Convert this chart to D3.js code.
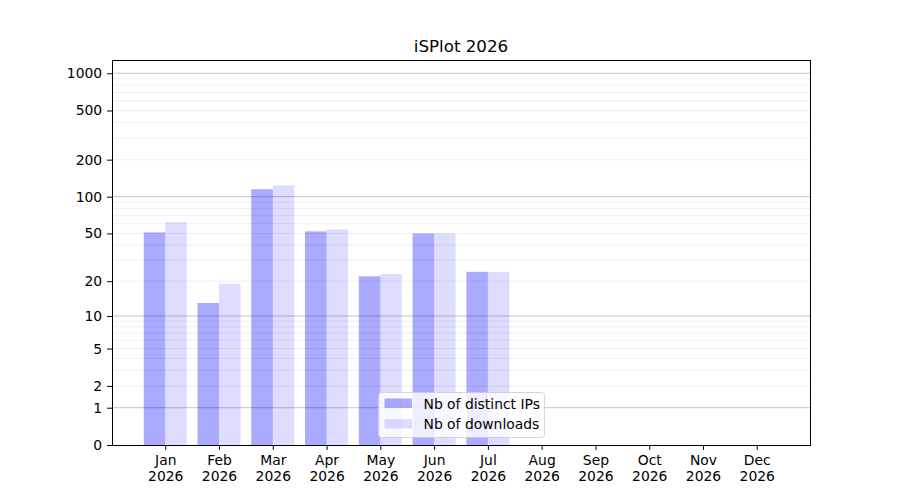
<!DOCTYPE html>
<html>
<head>
<meta charset="utf-8">
<script src="https://cdn.jsdelivr.net/npm/d3@7"></script>
<style>
  body { margin: 0; background: #fff; }
  svg text { font-family: "DejaVu Sans", sans-serif; }
</style>
</head>
<body>
<div id="chart"></div>
<script>
// data
var months = ["Jan", "Feb", "Mar", "Apr", "May", "Jun", "Jul", "Aug", "Sep", "Oct", "Nov", "Dec"];
var year = "2026";
var distinctIPs = [51, 13, 115, 52, 22, 50, 24, 0, 0, 0, 0, 0];
var downloads = [62, 19, 124, 54, 23, 50, 24, 0, 0, 0, 0, 0];
var yTicks = [0, 1, 2, 5, 10, 20, 50, 100, 200, 500, 1000];
var majorGrid = [1, 10, 100, 1000];
var minorGrid = [];
[1, 10, 100].forEach(function (d) {
	for (var k = 2; k <= 9; k++) minorGrid.push(k * d);
});

var width = 900, height = 500;
var margin = { top: 60, right: 90, bottom: 55, left: 112 };

var svg = d3.select("#chart").append("svg")
	.attr("width", width)
	.attr("height", height);

var x = d3.scaleLinear()
	.domain([-0.99, 11.99])
	.range([margin.left, width - margin.right]);

// log10(1 + v) scale, same as symlog with constant 1
var y = d3.scaleSymlog()
	.constant(1)
	.domain([0, 1280])
	.range([height - margin.bottom, margin.top]);

var barW = x(0.4) - x(0);

// bars
svg.append("g").selectAll("rect")
	.data(distinctIPs)
	.enter()
	.append("rect")
	.attr("x", function (d, i) { return x(i - 0.4); })
	.attr("y", function (d) { return y(d); })
	.attr("width", barW)
	.attr("height", function (d) { return y(0) - y(d); })
	.attr("fill", "#0000ff")
	.attr("fill-opacity", 0.333);

svg.append("g").selectAll("rect")
	.data(downloads)
	.enter()
	.append("rect")
	.attr("x", function (d, i) { return x(i); })
	.attr("y", function (d) { return y(d); })
	.attr("width", barW)
	.attr("height", function (d) { return y(0) - y(d); })
	.attr("fill", "#0000ff")
	.attr("fill-opacity", 0.133);

// grid (matplotlib puts it above patches)
svg.append("g").selectAll("line")
	.data(minorGrid)
	.enter()
	.append("line")
	.attr("x1", margin.left)
	.attr("x2", width - margin.right)
	.attr("y1", function (d) { return y(d); })
	.attr("y2", function (d) { return y(d); })
	.attr("stroke", "#000")
	.attr("stroke-opacity", 0.07)
	.attr("stroke-width", 1);

svg.append("g").selectAll("line")
	.data(majorGrid)
	.enter()
	.append("line")
	.attr("x1", margin.left)
	.attr("x2", width - margin.right)
	.attr("y1", function (d) { return y(d); })
	.attr("y2", function (d) { return y(d); })
	.attr("stroke", "#000")
	.attr("stroke-opacity", 0.23)
	.attr("stroke-width", 1);

// axes
var yAxis = d3.axisLeft(y)
	.tickValues(yTicks)
	.tickFormat(d3.format("d"))
	.tickSizeOuter(0)
	.tickSize(4.9)
	.tickPadding(4.9);

var gy = svg.append("g")
	.attr("transform", "translate(" + margin.left + ",0)")
	.call(yAxis);
gy.select(".domain").remove();

var xAxis = d3.axisBottom(x)
	.tickValues(d3.range(12))
	.tickFormat(function (d) { return months[d]; })
	.tickSizeOuter(0)
	.tickSize(4.9)
	.tickPadding(4.9);

var gx = svg.append("g")
	.attr("transform", "translate(0," + (height - margin.bottom) + ")")
	.call(xAxis);
gx.select(".domain").remove();

gx.selectAll(".tick text").each(function (d) {
	var t = d3.select(this);
	t.text(null);
	t.append("tspan").attr("x", 0).attr("dy", "0.71em").text(months[d]);
	t.append("tspan").attr("x", 0).attr("dy", "1.17em").text(year);
});

svg.selectAll(".tick text")
	.attr("font-family", "DejaVu Sans, sans-serif")
	.attr("font-size", 13.9)
	.attr("fill", "#000");
svg.selectAll(".tick line").attr("stroke", "#000").attr("stroke-width", 1);

// frame
svg.append("rect")
	.attr("x", margin.left)
	.attr("y", margin.top)
	.attr("width", width - margin.right - margin.left)
	.attr("height", height - margin.bottom - margin.top)
	.attr("fill", "none")
	.attr("stroke", "#000")
	.attr("stroke-width", 1)
	.attr("shape-rendering", "crispEdges");

// title
svg.append("text")
	.attr("x", (margin.left + width - margin.right) / 2)
	.attr("y", margin.top - 8)
	.attr("text-anchor", "middle")
	.attr("font-size", 16.7)
	.text("iSPlot " + year);

// legend, lower center
var legendItems = [
	{ label: "Nb of distinct IPs", opacity: 0.333 },
	{ label: "Nb of downloads", opacity: 0.133 }
];
var lg = svg.append("g")
	.attr("transform", "translate(378.5,392.5)");
lg.append("rect")
	.attr("width", 166)
	.attr("height", 45)
	.attr("rx", 3)
	.attr("fill", "#fff")
	.attr("fill-opacity", 0.8)
	.attr("stroke", "#ccc")
	.attr("stroke-width", 0.8);
var entry = lg.selectAll("g.entry")
	.data(legendItems)
	.enter()
	.append("g")
	.attr("class", "entry")
	.attr("transform", function (d, i) { return "translate(6," + (6 + i * 20.5) + ")"; });
entry.append("rect")
	.attr("width", 27.5)
	.attr("height", 9.5)
	.attr("fill", "#0000ff")
	.attr("fill-opacity", function (d) { return d.opacity; });
entry.append("text")
	.attr("x", 39)
	.attr("y", 10)
	.attr("font-size", 13.9)
	.text(function (d) { return d.label; });
</script>
</body>
</html>
